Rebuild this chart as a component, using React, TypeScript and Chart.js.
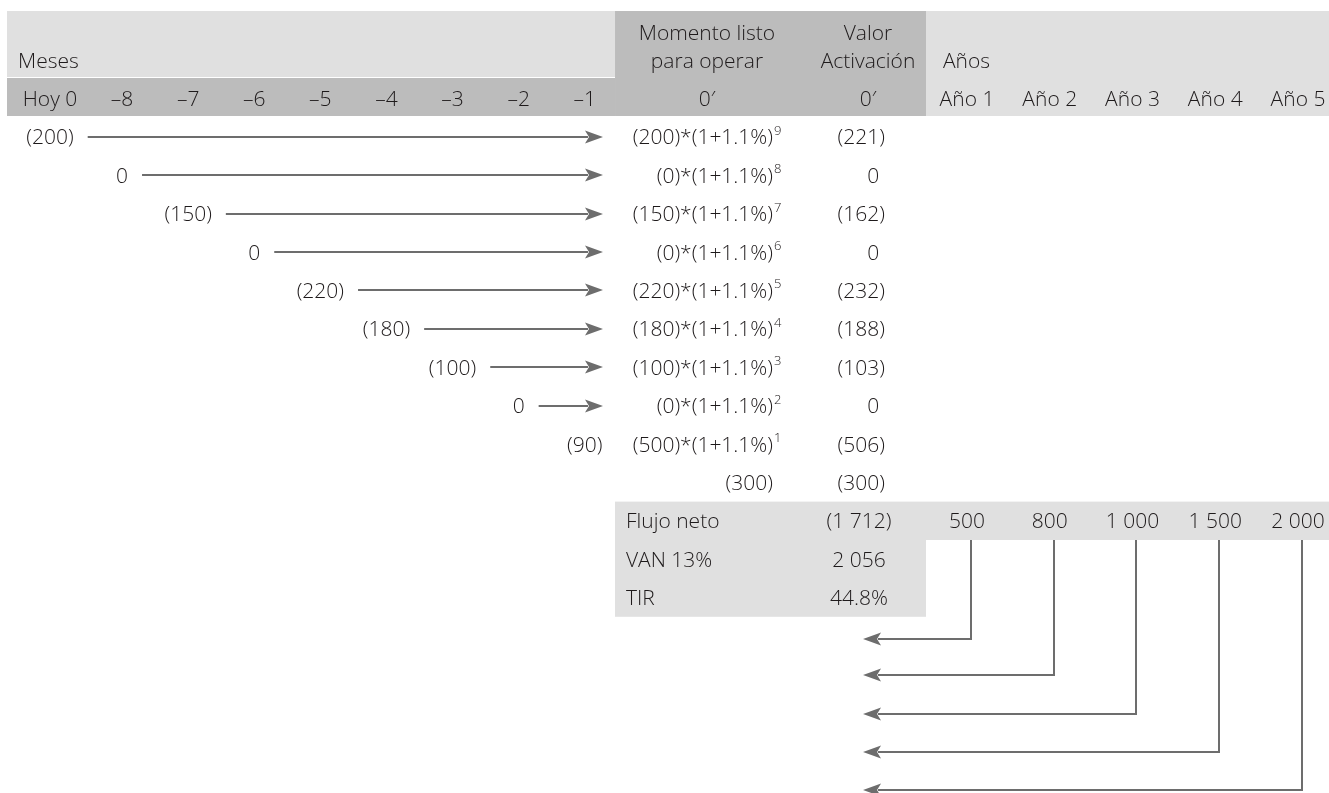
import React, { useEffect, useRef } from 'react';
import { Chart, registerables } from 'chart.js';
Chart.register(...registerables);

// ---------------- data ----------------
const monthLabels = ['Hoy 0', '–8', '–7', '–6', '–5', '–4', '–3', '–2', '–1'];
const monthFlows = [-200, 0, -150, 0, -220, -180, -100, 0, -90];
const formulaBases = [200, 0, 150, 0, 220, 180, 100, 0, 500];
const formulaExponents = [9, 8, 7, 6, 5, 4, 3, 2, 1];
const monthlyRate = '1.1%';
const readyFlow = -300;
const activationValues = [-221, 0, -162, 0, -232, -188, -103, 0, -506, -300];
const summaryLabels = ['Flujo neto', 'VAN 13%', 'TIR'];
const summaryValues = ['(1 712)', '2 056', '44.8%'];
const yearLabels = ['Año 1', 'Año 2', 'Año 3', 'Año 4', 'Año 5'];
const yearFlows = [500, 800, 1000, 1500, 2000];
const headerMonths = 'Meses';
const headerReady = ['Momento listo', 'para operar'];
const headerActivation = ['Valor', 'Activación'];
const headerYears = 'Años';
const zeroPrime = '0′';

// ---------------- layout (scale units) ----------------
const W = 1329;
const H = 793;
const COL0 = 50; // pixel of month column 0
const COLW = 66.1; // month column pitch
const ROW0 = 136.8; // pixel of data row 0
const ROWH = 38.4; // row pitch
const X_MIN = -COL0 / COLW;
const X_MAX = (W - COL0) / COLW;
const Y_MIN = -ROW0 / ROWH;
const Y_MAX = (H - ROW0) / ROWH;

const L = {
  leftEdge: -0.6505,
  firstMonthShift: 0.09,
  monthsRight: 8.548,
  readyRight: 13.253,
  rightEdge: 19.5,
  headTop: -3.276,
  headSplitA: -1.557,
  headSplitB: -1.531,
  headBottom: -0.542,
  mesesX: -0.484,
  head1Line1: -2.714,
  head1Line2: -1.985,
  readyCol: 9.939,
  actCol: 12.375,
  formulaRight: 10.938,
  actRight: 12.632,
  summaryLeft: 8.714,
  summaryBandLeft: 8.548,
  summaryCenter: 12.239,
  anosX: 13.51,
  yearCol0: 13.873,
  yearStep: 1.2519,
  yearLineOffset: 0.06,
  monthArrowTip: 8.366,
  yearArrowTip: 12.3,
  summaryRow: 10,
  arrowRows: [13.08, 14.02, 15.02, 16.02, 17.0],
};

const LIGHT = '#e0e0e0';
const DARK = '#bcbcbc';
const TEXT = '#1e1a1b';
const ARROW = '#6d6d6d';
const FONT_FAMILY = '"Open Sans", "Noto Sans", sans-serif';
const FONT_PX = 21;
const FONT = `350 ${FONT_PX}px ${FONT_FAMILY}`;
const SUP_FONT = `350 13px ${FONT_FAMILY}`;
const CAP_HALF = 7.5; // half cap height, for vertical centring on baseline

const group = (n: number) => String(n).replace(/\B(?=(\d{3})+(?!\d))/g, ' ');
const fmt = (v: number) => (v < 0 ? `(${group(-v)})` : group(v));
const monthX = (i: number) => (i === 0 ? 0 : i + L.firstMonthShift);
const yearX = (k: number) => L.yearCol0 + k * L.yearStep;

const tablePlugin = {
  id: 'tableDiagram',
  afterDraw(chart: any) {
    const ctx: CanvasRenderingContext2D = chart.ctx;
    const X = (v: number) => chart.scales.x.getPixelForValue(v);
    const Y = (v: number) => chart.scales.y.getPixelForValue(v);
    ctx.save();

    const rect = (x0: number, x1: number, y0: number, y1: number, c: string) => {
      ctx.fillStyle = c;
      ctx.fillRect(X(x0), Y(y0), X(x1) - X(x0), Y(y1) - Y(y0));
    };
    // bands
    rect(L.leftEdge, L.monthsRight, L.headTop, L.headSplitA, LIGHT);
    rect(L.leftEdge, L.monthsRight, L.headSplitB, L.headBottom, DARK);
    rect(L.monthsRight, L.readyRight, L.headTop, L.headBottom, DARK);
    rect(L.readyRight, L.rightEdge, L.headTop, L.headBottom, LIGHT);
    rect(L.summaryBandLeft, L.rightEdge, L.summaryRow - 0.5, L.summaryRow + 0.5, LIGHT);
    rect(L.summaryBandLeft, L.readyRight, L.summaryRow + 0.5, L.summaryRow + summaryLabels.length - 0.5, LIGHT);

    ctx.fillStyle = TEXT;
    ctx.font = FONT;
    ctx.textBaseline = 'alphabetic';
    const text = (s: string, xv: number, yv: number, align: CanvasTextAlign) => {
      ctx.textAlign = align;
      ctx.fillText(s, X(xv), Y(yv) + CAP_HALF);
    };

    // headers
    text(headerMonths, L.mesesX, L.head1Line2, 'left');
    text(headerReady[0], L.readyCol, L.head1Line1, 'center');
    text(headerReady[1], L.readyCol, L.head1Line2, 'center');
    text(headerActivation[0], L.actCol, L.head1Line1, 'center');
    text(headerActivation[1], L.actCol, L.head1Line2, 'center');
    text(headerYears, L.anosX, L.head1Line2, 'left');
    monthLabels.forEach((m, i) => text(m, monthX(i), -1, 'center'));
    text(zeroPrime, L.readyCol, -1, 'center');
    text(zeroPrime, L.actCol, -1, 'center');
    yearLabels.forEach((m, k) => text(m, yearX(k), -1, 'center'));

    const arrowHead = (tipX: number, yPx: number, dir: number) => {
      ctx.fillStyle = ARROW;
      ctx.beginPath();
      ctx.moveTo(tipX, yPx);
      ctx.lineTo(tipX - dir * 18, yPx - 6.5);
      ctx.lineTo(tipX - dir * 14, yPx);
      ctx.lineTo(tipX - dir * 18, yPx + 6.5);
      ctx.closePath();
      ctx.fill();
    };

    // month flows + arrows
    ctx.strokeStyle = ARROW;
    ctx.lineWidth = 2;
    monthFlows.forEach((v, i) => {
      const s = fmt(v);
      ctx.fillStyle = TEXT;
      text(s, monthX(i), i, 'center');
      if (i < monthFlows.length - 1) {
        const w = ctx.measureText(s).width;
        const x0 = X(monthX(i)) + w / 2 + 14;
        const tip = X(L.monthArrowTip);
        const yy = Math.round(Y(i));
        ctx.beginPath();
        ctx.moveTo(x0, yy);
        ctx.lineTo(tip - 15, yy);
        ctx.stroke();
        arrowHead(tip, yy, 1);
      }
    });

    // formulas
    formulaBases.forEach((b, i) => {
      ctx.fillStyle = TEXT;
      ctx.font = FONT;
      text(`(${group(b)})*(1+${monthlyRate})`, L.formulaRight, i, 'right');
      ctx.font = SUP_FONT;
      ctx.textAlign = 'left';
      ctx.fillText(String(formulaExponents[i]), X(L.formulaRight) + 1, Y(i) - 2);
    });
    ctx.font = FONT;
    ctx.fillStyle = TEXT;
    text(fmt(readyFlow), L.formulaRight, formulaBases.length, 'right');

    // activation values (accounting alignment)
    const parenW = ctx.measureText(')').width;
    activationValues.forEach((v, i) => {
      ctx.textAlign = 'right';
      ctx.fillText(fmt(v), X(L.actRight) - (v < 0 ? 0 : parenW), Y(i) + CAP_HALF);
    });

    // summary
    summaryLabels.forEach((s, k) => {
      text(s, L.summaryLeft, L.summaryRow + k, 'left');
      text(summaryValues[k], L.summaryCenter, L.summaryRow + k, 'center');
    });

    // year flows + return arrows
    yearFlows.forEach((v, k) => {
      ctx.fillStyle = TEXT;
      text(fmt(v), yearX(k), L.summaryRow, 'center');
      const lx = Math.round(X(yearX(k) + L.yearLineOffset));
      const ly = Math.round(Y(L.arrowRows[k]));
      const tip = X(L.yearArrowTip);
      ctx.strokeStyle = ARROW;
      ctx.lineWidth = 2;
      ctx.beginPath();
      ctx.moveTo(lx, Y(L.summaryRow + 0.5));
      ctx.lineTo(lx, ly);
      ctx.lineTo(tip + 15, ly);
      ctx.stroke();
      arrowHead(tip, ly, -1);
    });

    ctx.restore();
  },
};

export default function App() {
  const ref = useRef<HTMLCanvasElement>(null);
  useEffect(() => {
    document.body.style.margin = '0';
    const chart = new Chart(ref.current as HTMLCanvasElement, {
      type: 'scatter',
      data: { datasets: [{ data: [] }] },
      options: {
        animation: false,
        responsive: false,
        events: [],
        layout: { padding: 0 },
        plugins: { legend: { display: false }, tooltip: { enabled: false } },
        scales: {
          x: { type: 'linear', display: false, min: X_MIN, max: X_MAX },
          y: { type: 'linear', display: false, min: Y_MIN, max: Y_MAX, reverse: true },
        },
      },
      plugins: [tablePlugin],
    } as any);
    return () => chart.destroy();
  }, []);
  return <canvas ref={ref} width={W} height={H} style={{ display: 'block' }} />;
}
